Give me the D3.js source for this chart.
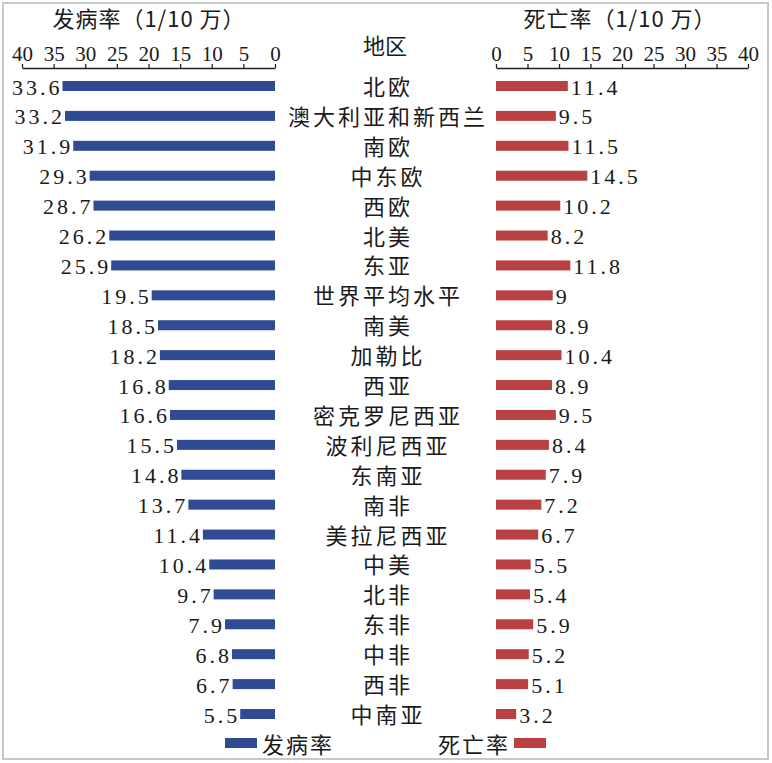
<!DOCTYPE html>
<html><head><meta charset="utf-8">
<script src="https://cdn.jsdelivr.net/npm/d3@7"></script>
<style>
body{margin:0;background:#fff;}
svg{display:block;}
text{fill:#1a1a1a;}
</style></head>
<body>
<script>
const regions = ["北欧","澳大利亚和新西兰","南欧","中东欧","西欧","北美","东亚","世界平均水平","南美","加勒比","西亚","密克罗尼西亚","波利尼西亚","东南亚","南非","美拉尼西亚","中美","北非","东非","中非","西非","中南亚"];
const incidence = [33.6,33.2,31.9,29.3,28.7,26.2,25.9,19.5,18.5,18.2,16.8,16.6,15.5,14.8,13.7,11.4,10.4,9.7,7.9,6.8,6.7,5.5];
const mortality = [11.4,9.5,11.5,14.5,10.2,8.2,11.8,9,8.9,10.4,8.9,9.5,8.4,7.9,7.2,6.7,5.5,5.4,5.9,5.2,5.1,3.2];
const axisTicks = [0,5,10,15,20,25,30,35,40];
const leftTitle = "发病率（1/10 万）";
const rightTitle = "死亡率（1/10 万）";
const centerHeader = "地区";
const legendLabels = ["发病率","死亡率"];

const W = 772, H = 763;
const blue = "#2f4b94", red = "#b94141";
const numFont = "Liberation Serif";
const cjkFont = "Noto Sans CJK SC";

const svg = d3.select("body").append("svg").attr("width", W).attr("height", H);

svg.append("rect").attr("x",3).attr("y",3).attr("width",W-7).attr("height",H-7)
  .attr("fill","none").attr("stroke","#c8c8c8").attr("stroke-width",2);

const xL = d3.scaleLinear().domain([0,40]).range([275,22]);
const xR = d3.scaleLinear().domain([0,40]).range([496,748]);
const y = d3.scalePoint().domain(regions).range([86,714]);
const barH = 10;

function drawAxis(scale, title, cx){
  const g = svg.append("g").attr("transform","translate(0,68)");
  const ax = d3.axisTop(scale).tickValues(axisTicks).tickSize(4).tickPadding(6).tickSizeOuter(0);
  g.call(ax);
  g.select(".domain").attr("stroke","#222").attr("stroke-width",1.3);
  g.selectAll(".tick line").attr("stroke","#222").attr("stroke-width",1.3);
  g.selectAll(".tick text").attr("font-family",numFont).attr("font-size",21).attr("fill","#1a1a1a").attr("dy","0.15em");
  svg.append("text").attr("x",cx).attr("y",17).attr("text-anchor","middle").attr("dominant-baseline","central")
    .attr("font-family",cjkFont).attr("font-size",22).attr("letter-spacing","1px").text(title);
}
drawAxis(xL, leftTitle, 149);
drawAxis(xR, rightTitle, 620);

svg.append("text").attr("x",385).attr("y",44).attr("text-anchor","middle").attr("dominant-baseline","central")
  .attr("font-family",cjkFont).attr("font-size",22).text(centerHeader);

svg.append("g").selectAll("rect").data(regions).join("rect")
  .attr("x",(d,i)=>xL(incidence[i])).attr("width",(d,i)=>xL(0)-xL(incidence[i]))
  .attr("y",d=>y(d)-barH/2).attr("height",barH).attr("fill",blue);
svg.append("g").selectAll("rect").data(regions).join("rect")
  .attr("x",xR(0)).attr("width",(d,i)=>xR(mortality[i])-xR(0))
  .attr("y",d=>y(d)-barH/2).attr("height",barH).attr("fill",red);

function fmt(v){ return String(v); }
svg.append("g").selectAll("text").data(regions).join("text")
  .attr("x",(d,i)=>xL(incidence[i])-3).attr("y",d=>y(d)+1).attr("text-anchor","end").attr("dominant-baseline","central")
  .attr("font-family",numFont).attr("font-size",22).attr("letter-spacing","3px").attr("dx","3px")
  .text((d,i)=>fmt(incidence[i]));
svg.append("g").selectAll("text").data(regions).join("text")
  .attr("x",(d,i)=>xR(mortality[i])+3).attr("y",d=>y(d)+1).attr("text-anchor","start").attr("dominant-baseline","central")
  .attr("font-family",numFont).attr("font-size",22).attr("letter-spacing","3px")
  .text((d,i)=>fmt(mortality[i]));

svg.append("g").selectAll("text").data(regions).join("text")
  .attr("x",388).attr("y",d=>y(d)-1).attr("text-anchor","middle").attr("dominant-baseline","central")
  .attr("font-family",cjkFont).attr("font-size",22).attr("letter-spacing","3px")
  .text(d=>d);

svg.append("rect").attr("x",225).attr("y",738).attr("width",32).attr("height",10).attr("fill",blue);
svg.append("text").attr("x",262).attr("y",743).attr("dominant-baseline","central")
  .attr("font-family",cjkFont).attr("font-size",22).attr("letter-spacing","2px").text(legendLabels[0]);
svg.append("text").attr("x",510).attr("y",743).attr("text-anchor","end").attr("dominant-baseline","central")
  .attr("font-family",cjkFont).attr("font-size",22).attr("letter-spacing","2px").text(legendLabels[1]);
svg.append("rect").attr("x",514).attr("y",738).attr("width",32).attr("height",10).attr("fill",red);
</script>
</body></html>
